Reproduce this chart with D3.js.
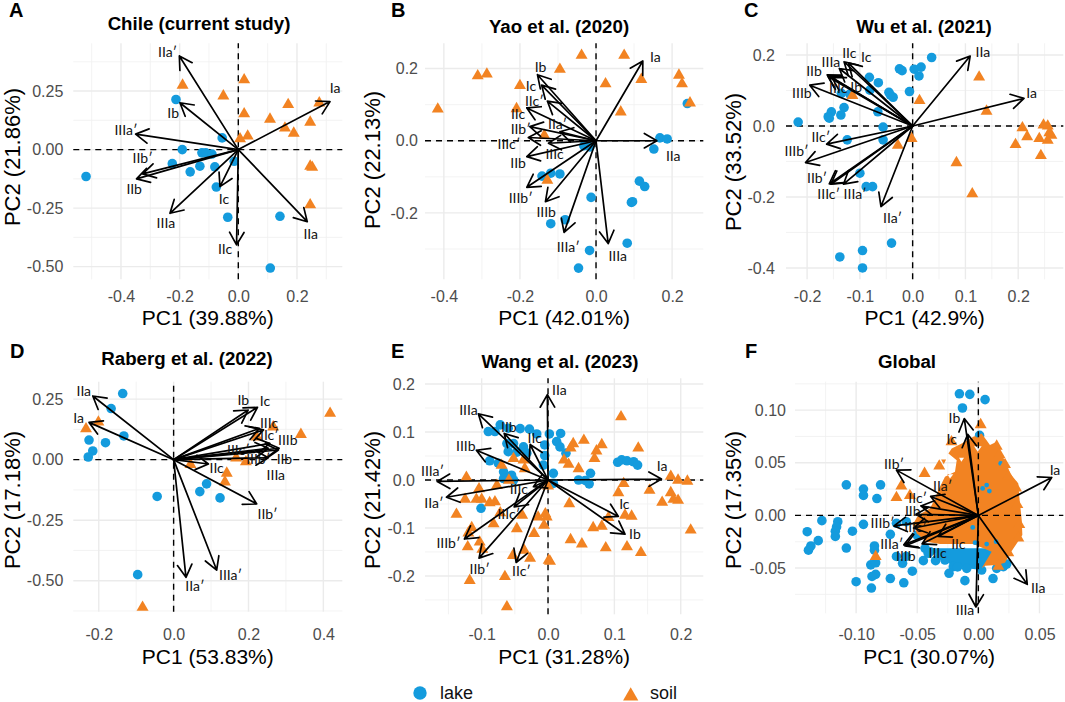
<!DOCTYPE html>
<html><head><meta charset="utf-8">
<script src="https://cdnjs.cloudflare.com/ajax/libs/d3/7.8.5/d3.min.js"></script>
<style>
html,body{margin:0;padding:0;background:#fff}
svg{display:block}
text{font-family:"Liberation Sans",Arial,sans-serif}
.al{font-family:Lato,"Open Sans",sans-serif;font-size:14px;fill:#111}
</style></head><body>
<svg id="c" width="1065" height="702"></svg>
<script>
// ---------- data (PC1, PC2) ----------
const lakeA=[[-.519,-.115],[-.2125,.214],[-.191,0],[-.055,.05],[-.124,-.014],[-.111,-.014],[-.09,-.019],[-.225,-.06],[-.131,-.071],[-.164,-.095],[-.08,-.074],[-.014,-.05],[-.075,-.16],[-.036,-.289],[.142,-.285],[.109,-.506]];
const soilA=[[-.19,.28],[.02,.303],[-.051,.234],[.02,.158],[.17,.197],[.108,.135],[.276,.204],[.245,.122],[.159,.097],[.189,.075],[.032,.063],[.006,.051],[.245,-.066],[.252,-.071],[.245,-.231]];
const loadA=[["Ia",.3125,.205,.33,.262],["IIa′",-.201,.40,-.241,.416],["Ib",-.199,.2,-.222,.155],["IIIa′",-.35,.066,-.383,.084],["IIb′",-.326,-.104,-.326,-.037],["IIb",-.347,-.125,-.355,-.168],["IIIa",-.233,-.272,-.247,-.316],["Ic",-.0625,-.158,-.049,-.211],["IIc",-.006,-.407,-.045,-.424],["IIa",.235,-.308,.247,-.362]];

const lakeB=[[.24,.103],[.168,.008],[.187,.005],[.152,-.023],[-.032,-.014],[-.016,-.017],[-.142,-.098],[-.119,-.09],[-.095,-.092],[.114,-.112],[.128,-.127],[-.013,-.157],[.093,-.171],[.096,-.169],[-.081,-.219],[-.119,-.23],[.082,-.284],[-.017,-.304],[-.046,-.353]];
const soilB=[[-.038,.24],[.074,.24],[-.095,.201],[-.287,.188],[-.311,.183],[-.2,.156],[.025,.161],[.119,.173],[.218,.185],[.226,.161],[.247,.108],[-.416,.091],[-.209,.092],[.065,.083],[-.136,.018],[-.128,-.106]];
const loadB=[["Ia",.123,.221,.156,.231],["IIa",.16,0,.203,-.042],["IIIa",.032,-.285,.057,-.32],["IIIa′",-.084,-.254,-.073,-.294],["IIIb",-.133,-.169,-.131,-.197],["IIIb′",-.182,-.129,-.198,-.158],["IIb",-.182,-.044,-.205,-.061],["IIIc",-.125,-.007,-.109,-.038],["IIIc′",-.178,.009,-.229,-.009],["IIb′",-.174,.039,-.198,.032],["IIa′",-.095,.025,-.101,.045],["IIc",-.182,.091,-.205,.075],["IIc′",-.128,.11,-.162,.111],["Ic",-.143,.154,-.171,.151],["Ib",-.154,.183,-.146,.203]];

const lakeC=[[.036,.193],[.016,.166],[.003,.16],[.012,.141],[-.025,.161],[-.02,.156],[-.082,.137],[-.065,.122],[-.006,.097],[-.045,.095],[-.042,.087],[-.037,.081],[-.081,.101],[-.135,.092],[-.119,.09],[-.066,.04],[-.13,.052],[-.136,.031],[-.154,.04],[-.16,.026],[-.158,.022],[-.217,.011],[-.056,-.003],[-.056,-.039],[-.124,-.039],[-.1,-.133],[-.088,-.171],[-.076,-.171],[-.04,-.33],[-.095,-.351],[-.138,-.369],[-.095,-.4]];
const soilC=[[.126,.141],[.013,.075],[.14,.045],[.208,-.002],[.248,.006],[.256,.003],[.259,-.016],[.263,-.023],[.217,-.027],[.24,-.032],[.256,-.037],[.195,-.049],[.243,-.08],[.083,-.1],[.113,-.188],[-.002,-.032],[-.028,-.051],[-.114,.089]];
const loadC=[["Ia",.211,.078,.2255,.094],["IIa",.109,.197,.133,.208],["IIa′",-.06,-.227,-.038,-.259],["IIIa′",-.131,-.164,-.109,-.193],["IIIc′",-.155,-.164,-.159,-.193],["IIb′",-.158,-.163,-.181,-.146],["IIIb′",-.203,-.103,-.22,-.07],["IIc′",-.163,-.051,-.174,-.032],["IIIb",-.195,.115,-.21,.094],["IIb",-.162,.144,-.187,.156],["IIIa",-.139,.162,-.155,.18],["IIc",-.13,.181,-.12,.205],["Ic",-.122,.178,-.088,.195],["Ib",-.153,.137,-.107,.109],["IIIc",-.16,.139,-.141,.106]];

const lakeD=[[-.136,.273],[-.167,.211],[-.133,.098],[-.226,.081],[-.182,.07],[-.216,.036],[-.228,.011],[-.044,-.152],[.088,-.1],[.07,-.132],[.124,-.158],[-.096,-.475]];
const soilD=[[.418,.196],[.34,.109],[.266,.14],[.222,.098],[-.201,.16],[-.234,.132],[.167,.012],[.193,-.004],[.045,-.015],[.142,-.051],[.137,-.087],[-.083,-.605]];
const loadD=[["IIa",-.216,.263,-.24,.285],["Ia",-.226,.154,-.254,.171],["Ib",.199,.205,.186,.247],["Ic",.224,.216,.244,.24],["IIIc",.229,.129,.255,.153],["IIc′",.24,.123,.256,.102],["IIIb",.282,.047,.305,.079],["IIIc′",.257,.067,.173,.04],["IIIb′",.253,.047,.226,.003],["IIb",.28,.04,.296,.003],["IIIa",.253,.008,.273,-.063],["IIb′",.222,-.183,.251,-.225],["IIc",.093,-.018,.115,-.036],["IIa′",.033,-.486,.057,-.521],["IIIa′",.115,-.456,.152,-.477]];

const lakeE=[[-.101,-.059],[-.09,.101],[-.08,.101],[-.072,.115],[-.06,.108],[-.042,.107],[-.028,.106],[-.017,.096],[.002,.096],[.019,.097],[-.062,.076],[-.052,.076],[-.037,.069],[-.06,.059],[-.047,.058],[-.032,.056],[-.005,.073],[.013,.08],[.018,.069],[.027,.056],[-.005,.051],[-.088,.04],[-.075,.035],[-.067,.017],[-.067,.003],[-.055,.01],[-.052,0],[-.007,.031],[.008,.014],[.008,-.007],[.046,0],[.056,-.001],[.064,.014],[.062,-.008],[.105,.037],[.111,.042],[.119,.04],[.129,.038],[.135,.031]];
const soilE=[[.11,.134],[.136,.069],[.054,.085],[.081,.076],[.038,.078],[.034,.069],[.073,.063],[.07,.047],[.024,.044],[.031,.035],[.046,.026],[-.052,.047],[-.037,.044],[-.07,.033],[-.035,.026],[-.123,.008],[-.059,.002],[-.077,-.009],[-.104,-.016],[-.125,-.038],[-.108,-.038],[-.1,-.038],[-.088,-.045],[-.08,-.043],[-.138,-.069],[-.072,-.066],[-.039,-.071],[-.015,-.075],[-.004,-.068],[-.002,-.075],[-.006,-.092],[-.082,-.089],[-.047,-.099],[-.115,-.097],[-.12,-.108],[-.021,-.109],[-.103,-.127],[-.121,-.137],[-.099,-.142],[.034,-.122],[.051,-.131],[.087,-.139],[.119,-.137],[.14,-.149],[-.036,-.144],[-.053,-.155],[-.027,-.161],[.001,-.165],[.003,-.167],[-.065,-.199],[-.118,-.207],[-.062,-.262],[0,-.01],[.032,-.047],[.091,-.076],[.081,-.094],[.068,-.097],[.116,-.071],[.126,-.073],[.106,-.024],[.114,-.005],[.153,-.019],[.172,-.044],[.185,.01],[.196,.002],[.21,0],[.185,-.024],[.189,-.038],[.196,-.04],[.215,-.102]];
const loadE=[["Ia",.171,.002,.172,.028],["IIa",-.001,.178,.017,.1875],["IIIa",-.105,.138,-.12,.146],["IIb",-.066,.097,-.059,.111],["IIc",-.027,.074,-.02,.088],["IIIb",-.108,.062,-.124,.071],["IIIa′",-.167,-.003,-.174,.019],["IIa′",-.153,-.036,-.172,-.049],["IIIc",-.022,-.014,-.044,-.019],["IIIc′",-.051,-.056,-.059,-.071],["IIIb′",-.126,-.123,-.15,-.131],["IIb′",-.104,-.163,-.103,-.185],["IIc′",-.048,-.172,-.04,-.189],["Ic",.106,-.076,.115,-.05],["Ib",.116,-.113,.131,-.1125]];

const lakeF=[[-.0155,.1155],[-.007,.115],[.0055,.11],[-.013,.102],[.001,.076],[-.108,.029],[-.094,.025],[-.08,.029],[-.094,.019],[-.083,.016],[-.128,-.005],[-.115,-.006],[-.116,-.011],[-.117,-.015],[-.117,-.02],[-.094,-.0085],[-.103,-.015],[-.14,-.0155],[-.131,-.024],[-.137,-.029],[-.139,-.033],[-.108,-.031],[-.072,-.018],[-.085,-.029],[-.085,-.033],[-.067,-.0075],[-.059,-.006],[-.05,-.019],[-.067,-.039],[-.062,-.0455],[-.059,-.039],[-.045,-.043],[-.041,-.036],[-.035,-.043],[-.054,-.053],[-.088,-.047],[-.084,-.045],[-.084,-.056],[-.087,-.058],[-.1,-.063],[-.072,-.06],[-.061,-.064],[-.0875,-.069],[-.024,-.055],[-.011,-.062],[-.017,-.049],[.012,-.06],[.0205,-.0487],[.015,-.0503],[.0232,-.0462]];
const soilF=[[.0019,.0873],[-.022,.071],[-.044,.041],[-.032,.048],[-.063,.029],[-.067,.018],[-.056,.02],[-.084,-.038],[.015,.0668],[.0308,.0272],[.0319,.0114],[.0335,-.0076],[.0327,-.0203],[.0245,-.0345],[.0164,-.0472],[.0218,.0494],[.0172,.0589],[.0245,.0383]];
// dense clouds in panel F, given as the traced edge of each cloud
const lakeCloudF=[[-.0436,-.0313],[.0095,-.0313],[.0109,-.0361],[.0027,-.0519],[-.0095,-.0503],[-.0205,-.0487],[-.0273,-.0424],[-.0314,-.0377],[-.0395,-.0345]];
const soilCloudF=[[.0027,.0778],[.0095,.0668],[.015,.0699],[.0191,.0573],[.0232,.0494],[.0259,.0399],[.0327,.0304],[.0335,.0177],[.0355,-.0044],[.036,-.0187],[.0314,-.0266],[.0259,-.0361],[.0218,-.0449],[.015,-.047],[.0055,-.0478],[.0027,-.0503],[.0109,-.0345],[.0041,-.0313],[-.0041,-.0272],[-.0177,-.0272],[-.0314,-.0272],[-.0423,-.025],[-.0504,-.0171],[-.0532,-.0076],[-.0491,.0003],[-.0395,.0066],[-.0355,.0161],[-.0314,.0272],[-.0273,.0367],[-.0191,.0415],[-.0177,.0525],[-.0245,.0589],[-.0218,.0636],[-.0136,.0684],[-.0041,.0747]];
const soilGapsF=[[[-.0035,.0658],[.0027,.0658],[-.0005,.0604]],[[-.0158,.0548],[-.0117,.0548],[-.0139,.0509]],[[-.0305,.0532],[-.0264,.0532],[-.0283,.0487]],[[-.0254,.0392],[-.0205,.0392],[-.0232,.0351]]];
const lakeBitsF=[[.0068,.0288],[.009,.0231],[.0035,.0256],[.0183,.0494],[-.0008,.0763],[-.0046,-.0114],[.0068,-.0272],[.0145,-.025],[-.0027,-.0259]];
const loadF=[["Ia",.06,.036,.0627,.043],["IIa",.04,-.0655,.049,-.0693],["IIIa",-.002,-.087,-.0109,-.0899],["Ib",-.0115,.092,-.0196,.0927],["Ic",-.0087,.077,-.0218,.0728],["IIb′",-.067,.043,-.069,.0484],["IIa′",-.039,.018,-.0292,.0278],["IIc′",-.047,.009,-.0496,.0161],["IIb",-.051,.001,-.0537,.0044],["IIIb′",-.069,-.01,-.0783,-.0076],["IIIc′",-.053,-.012,-.0513,-.0114],["IIIa′",-.061,-.028,-.0709,-.0275],["IIIb",-.06,-.029,-.0594,-.0386],["IIIc",-.046,-.027,-.0333,-.0354],["IIc",-.033,-.02,-.0164,-.0272]];

const titles=["Chile (current study)","Yao et al. (2020)","Wu et al. (2021)","Raberg et al. (2022)","Wang et al. (2023)","Global"];
const tags=["A","B","C","D","E","F"];
const pc1=["PC1 (39.88%)","PC1 (42.01%)","PC1 (42.9%)","PC1 (53.83%)","PC1 (31.28%)","PC1 (30.07%)"];
const pc2=["PC2 (21.86%)","PC2 (22.13%)","PC2 (33.52%)","PC2 (17.18%)","PC2 (21.42%)","PC2 (17.35%)"];
const xTicks=[["-0.4","-0.2","0.0","0.2"],["-0.4","-0.2","0.0","0.2"],["-0.2","-0.1","0.0","0.1","0.2"],["-0.2","0.0","0.2","0.4"],["-0.1","0.0","0.1","0.2"],["-0.10","-0.05","0.00","0.05"]];
const yTicks=[["-0.50","-0.25","0.00","0.25"],["-0.2","0.0","0.2"],["-0.4","-0.2","0.0","0.2"],["-0.50","-0.25","0.00","0.25"],["-0.2","-0.1","0.0","0.1","0.2"],["-0.05","0.00","0.05","0.10"]];
const lakes=[lakeA,lakeB,lakeC,lakeD,lakeE,lakeF];
const soils=[soilA,soilB,soilC,soilD,soilE,soilF];
const loads=[loadA,loadB,loadC,loadD,loadE,loadF];

// ---------- layout ----------
const layout=[
 {x:[73.3,342.3],y:[279.3,43.3],xd:[-.5625,.3545],yd:[-.554,.454],tx:199,ty:30,lx:9,ly:17,xp:11.6,yp:10,xt:318,yt:12.5,ym:157},
 {x:[425,703.3],y:[279.3,43.3],xd:[-.4496,.282],yd:[-.384,.27],tx:559,ty:33,lx:391,ly:17,xp:11.6,yp:7,xt:318,yt:372,ym:160},
 {x:[786,1063.3],y:[279.3,43.3],xd:[-.24,.2855],yd:[-.432,.233],tx:924,ty:33,lx:744,ly:17,xp:11.6,yp:11,xt:318,yt:733,ym:162},
 {x:[73.3,342.3],y:[611.7,381.7],xd:[-.268,.4506],yd:[-.628,.322],tx:187,ty:365,lx:10,ly:358,xp:16.6,yp:10,xt:657,yt:12.5,ym:500},
 {x:[425,703.3],y:[614.3,378.3],xd:[-.1854,.234],yd:[-.28,.212],tx:560,ty:368,lx:391,ly:358,xp:14.6,yp:10,xt:657,yt:372,ym:500},
 {x:[795,1063.3],y:[613.3,381.7],xd:[-.15,.0695],yd:[-.093,.127],tx:907,ty:368,lx:745,ly:358,xp:15.6,yp:9,xt:657,yt:733,ym:500}
];
const BLUE="#149BDD",ORANGE="#F28322";
const svg=d3.select("#c");
const tri=d3.symbol().type(d3.symbolTriangle).size(62);

function minors(v,dom){
  const s=v[1]-v[0],out=[];
  for(let m=v[0]-s/2;m<dom[1];m+=s){ if(m>dom[0]) out.push(m); }
  return out;
}
function drawPoints(g,x,y,lake,soil){
  g.append("g").selectAll("circle").data(lake).join("circle")
    .attr("cx",d=>x(d[0])).attr("cy",d=>y(d[1])).attr("r",4.8).attr("fill",BLUE);
  g.append("g").selectAll("path").data(soil).join("path").attr("d",tri)
    .attr("transform",d=>`translate(${x(d[0])},${y(d[1])+1.2})`).attr("fill",ORANGE);
}
function zeroLines(g,x,y,L){
  g.append("line").attr("x1",L.x[0]).attr("x2",L.x[1]).attr("y1",y(0)).attr("y2",y(0)).attr("stroke","#000").attr("stroke-width",1.4).attr("stroke-dasharray","6 5");
  g.append("line").attr("y1",L.y[0]).attr("y2",L.y[1]).attr("x1",x(0)).attr("x2",x(0)).attr("stroke","#000").attr("stroke-width",1.4).attr("stroke-dasharray","6 5");
}
layout.forEach((L,i)=>{
  const x=d3.scaleLinear().domain(L.xd).range(L.x);
  const y=d3.scaleLinear().domain(L.yd).range(L.y);
  const g=svg.append("g");
  const xv=xTicks[i].map(Number), yv=yTicks[i].map(Number);
  // grid
  minors(xv,L.xd).forEach(v=>g.append("line").attr("x1",x(v)).attr("x2",x(v)).attr("y1",L.y[0]).attr("y2",L.y[1]).attr("stroke","#F0F0F0").attr("stroke-width",.8));
  minors(yv,L.yd).forEach(v=>g.append("line").attr("y1",y(v)).attr("y2",y(v)).attr("x1",L.x[0]).attr("x2",L.x[1]).attr("stroke","#F0F0F0").attr("stroke-width",.8));
  xv.forEach(v=>g.append("line").attr("x1",x(v)).attr("x2",x(v)).attr("y1",L.y[0]).attr("y2",L.y[1]).attr("stroke","#EBEBEB").attr("stroke-width",1.4));
  yv.forEach(v=>g.append("line").attr("y1",y(v)).attr("y2",y(v)).attr("x1",L.x[0]).attr("x2",L.x[1]).attr("stroke","#EBEBEB").attr("stroke-width",1.4));
  // axes
  const ax=g.append("g").attr("transform",`translate(0,${L.y[0]})`)
    .call(d3.axisBottom(x).tickValues(xv).tickSize(0).tickPadding(L.xp).tickFormat((d,k)=>xTicks[i][k]));
  const ay=g.append("g").attr("transform",`translate(${L.x[0]},0)`)
    .call(d3.axisLeft(y).tickValues(yv).tickSize(0).tickPadding(L.yp).tickFormat((d,k)=>yTicks[i][k]));
  [ax,ay].forEach(a=>{a.select(".domain").remove();a.selectAll("text").attr("fill","#4D4D4D").style("font-family",'"Liberation Sans",Arial,sans-serif').style("font-size","16px");});
  if(i===5){
    const ln=d3.line().x(d=>x(d[0])).y(d=>y(d[1])).curve(d3.curveLinearClosed);
    g.append("path").attr("d",ln(lakeCloudF)).attr("fill",BLUE);
    drawPoints(g,x,y,lakeCloudF.concat(lakes[i]),[]);
    g.append("path").attr("fill-rule","evenodd").attr("d",[soilCloudF].concat(soilGapsF).map(r=>ln(r)).join("")).attr("fill",ORANGE);
    g.append("g").selectAll("circle").data(lakeBitsF).join("circle")
      .attr("cx",d=>x(d[0])).attr("cy",d=>y(d[1])).attr("r",2.4).attr("fill",BLUE);
    drawPoints(g,x,y,[],soils[i]);
    zeroLines(g,x,y,L);
  } else {
    zeroLines(g,x,y,L);
    drawPoints(g,x,y,lakes[i],soils[i]);
  }
  // loadings
  const a=g.append("g").attr("fill","none").attr("stroke","#000").attr("stroke-width",1.7).attr("stroke-linecap","round").attr("stroke-linejoin","round");
  const X0=x(0),Y0=y(0),HL=14.5,HA=Math.PI/6;
  loads[i].forEach(d=>{
    const tx=x(d[1]),ty=y(d[2]),t=Math.atan2(ty-Y0,tx-X0);
    const p=d3.path();
    p.moveTo(X0,Y0);p.lineTo(tx,ty);
    p.moveTo(tx-HL*Math.cos(t-HA),ty-HL*Math.sin(t-HA));
    p.lineTo(tx,ty);
    p.lineTo(tx-HL*Math.cos(t+HA),ty-HL*Math.sin(t+HA));
    a.append("path").attr("d",p.toString());
  });
  g.append("g").selectAll("text").data(loads[i]).join("text").attr("class","al")
    .attr("x",d=>x(d[3])).attr("y",d=>y(d[4])).attr("text-anchor","middle").attr("dy",".35em").text(d=>d[0]);
  // titles
  svg.append("text").attr("x",L.tx).attr("y",L.ty).attr("text-anchor","middle").attr("font-weight","bold").attr("font-size",18.7).attr("fill","#000").text(titles[i]);
  svg.append("text").attr("x",L.lx).attr("y",L.ly).attr("font-weight","bold").attr("font-size",20).attr("fill","#000").text(tags[i]);
  svg.append("text").attr("x",(L.x[0]+L.x[1])/2).attr("y",L.xt).attr("dy",".35em").attr("text-anchor","middle").attr("font-size",21).attr("fill","#000").text(pc1[i]);
  svg.append("text").attr("transform",`translate(${L.yt},${L.ym}) rotate(-90)`).attr("dy",".35em").attr("text-anchor","middle").attr("font-size",22).attr("fill","#000").text(pc2[i]);
});
// legend
svg.append("circle").attr("cx",420).attr("cy",693).attr("r",6.7).attr("fill",BLUE);
svg.append("text").attr("x",440).attr("y",699).attr("font-size",18).attr("fill","#111").text("lake");
svg.append("path").attr("d",d3.symbol().type(d3.symbolTriangle).size(100)).attr("transform","translate(630.7,696)").attr("fill",ORANGE);
svg.append("text").attr("x",650).attr("y",699).attr("font-size",18).attr("fill","#111").text("soil");
</script>
</body></html>
